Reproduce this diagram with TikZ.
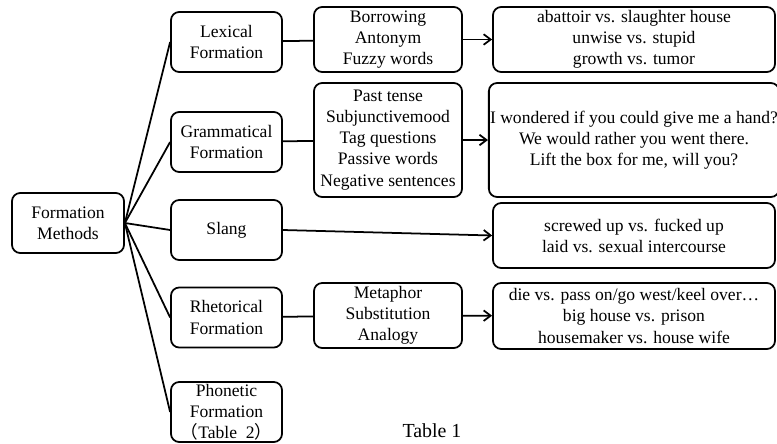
\documentclass[tikz,border=0pt]{standalone}
\usepackage{fontspec}
\setmainfont{Liberation Serif}
\newfontfamily\cjk{Noto Sans CJK SC}
\usetikzlibrary{arrows.meta}
\tikzset{
  rootbox/.style={rectangle, draw=black, rounded corners=7pt, line width=1.5pt,
    align=center, inner sep=1pt, minimum width=3.36cm, minimum height=1.8cm,
    font=\fontsize{15}{18}\selectfont},
  formbox/.style={rectangle, draw=black, rounded corners=7pt, line width=1.5pt,
    align=center, inner sep=1pt, minimum width=3.33cm, minimum height=1.8cm,
    font=\fontsize{15}{18}\selectfont},
  waybox/.style={rectangle, draw=black, rounded corners=7pt, line width=1.5pt,
    align=center, inner sep=1pt, minimum width=4.44cm,
    font=\fontsize{15}{18}\selectfont},
  examplebox/.style={rectangle, draw=black, rounded corners=7pt, line width=1.5pt,
    align=center, inner sep=1pt, minimum width=8.46cm,
    font=\fontsize{15}{18}\selectfont},
  arrow/.style={-{Straight Barb[length=6pt, width=9pt]}, line width=1.5pt, color=black},
  line/.style={line width=1.5pt, color=black}
}

\begin{document}
\begin{tikzpicture}[x=0.03cm, y=-0.03cm]
  \useasboundingbox (0,0) rectangle (777,443);

  % Root
  \node[rootbox] (root) at (68,223) {Formation\\Methods};

  % Formation types
  \node[formbox] (lex) at (226.5,42) {Lexical\\Formation};
  \node[formbox] (gram) at (226.5,142) {Grammatical\\Formation};
  \node[formbox] (slang) at (226.5,230) {Slang};
  \node[formbox] (rhet) at (226.5,317.5) {Rhetorical\\Formation};
  \node[formbox] (phon) at (226.5,412) {Phonetic\\Formation\\{\cjk （}Table\ \ 2{\cjk ）}};

  % Ways
  \node[waybox, minimum height=1.95cm] (lexway) at (388,39.5) {Borrowing\\Antonym\\Fuzzy words};
  \node[waybox, minimum height=3.42cm] (gramway) at (388,140) {Past tense\\Subjunctivemood\\Tag questions\\Passive words\\Negative sentences};
  \node[waybox, minimum height=1.95cm] (rhetway) at (388,315.5) {Metaphor\\Substitution\\Analogy};

  % Examples
  \node[examplebox, minimum height=1.95cm] (lexex) at (634,39.5) {abattoir vs. slaughter house\\unwise vs. stupid\\growth vs. tumor};
  \node[examplebox, minimum height=3.42cm] (gramex) at (634,140) {I wondered if you could give me a hand?\\We would rather you went there.\\Lift the box for me, will you?};
  \node[examplebox, minimum height=1.95cm] (slangex) at (634,235.5) {screwed up vs. fucked up\\laid vs. sexual intercourse};
  \node[examplebox, minimum height=1.98cm] (rhetex) at (634,316) {die vs. pass on/go west/keel over…\\big house vs. prison\\housemaker vs. house wife};

  % Connectors
  \foreach \f in {lex,gram,slang,rhet,phon}
    \draw[line] (root.east) -- (\f.west);
  \draw[line] (lex) -- (lexway);
  \draw[line] (gram) -- (gramway);
  \draw[line] (rhet) -- (rhetway);
  \draw[arrow] (lexway) -- (lexex);
  \draw[arrow] (gramway) -- (gramex);
  \draw[arrow] (slang.east) -- (slangex.west);
  \draw[arrow] (rhetway) -- (rhetex);

  % Caption
  \node[font=\fontsize{17}{20}\selectfont] (caption) at (432,431) {Table 1};
\end{tikzpicture}
\end{document}
